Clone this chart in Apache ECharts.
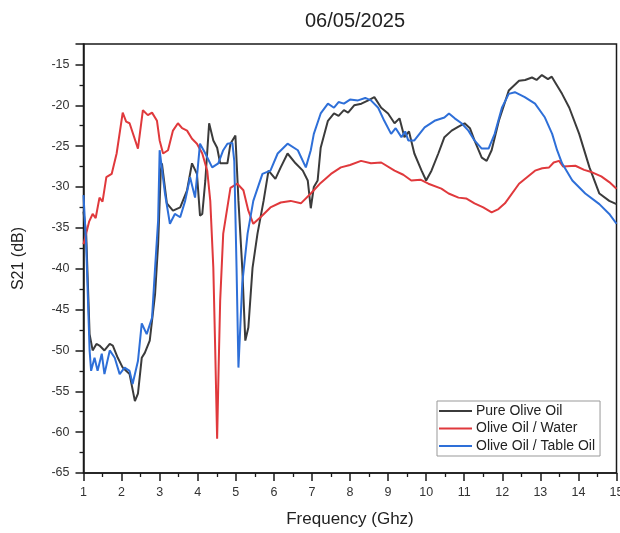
<!DOCTYPE html>
<html>
<head>
<meta charset="utf-8">
<script src="https://cdn.jsdelivr.net/npm/echarts@6/dist/echarts.min.js"></script>
<style>html,body{margin:0;padding:0;background:#fff;}#c{width:620px;height:533px;}</style>
</head>
<body>
<div id="c"></div>
<script>
const seriesNames = ['Pure Olive Oil', 'Olive Oil / Water', 'Olive Oil / Table Oil'];
const xTicks = [1,2,3,4,5,6,7,8,9,10,11,12,13,14,15];
const yTicks = [-65,-60,-55,-50,-45,-40,-35,-30,-25,-20,-15];

const pureOliveOil = [[1.0,-33],[1.07,-35.7],[1.16,-48],[1.24,-50],[1.34,-49.2],[1.42,-49.4],[1.55,-50],[1.69,-49.2],[1.77,-49.4],[1.9,-50.9],[2.03,-52.1],[2.21,-52.9],[2.35,-56.2],[2.43,-55.3],[2.53,-50.9],[2.61,-50.3],[2.74,-48.8],[2.88,-43.1],[2.96,-37],[3.03,-28],[3.06,-27.1],[3.19,-32],[3.35,-32.9],[3.54,-32.5],[3.72,-30.4],[3.85,-27.1],[3.98,-28.4],[4.06,-33.5],[4.12,-33.3],[4.2,-29.2],[4.3,-22.2],[4.41,-24.3],[4.51,-25.2],[4.59,-27.1],[4.67,-27.1],[4.78,-27.1],[4.86,-24.7],[4.99,-23.7],[5.07,-31.7],[5.17,-39.9],[5.25,-48.8],[5.33,-47.2],[5.44,-39.9],[5.57,-35.7],[5.73,-31.7],[5.86,-28],[6.04,-29],[6.18,-27.6],[6.36,-25.9],[6.57,-27.1],[6.76,-28],[6.89,-29.2],[6.97,-32.6],[7.05,-30],[7.15,-29.2],[7.23,-25.2],[7.42,-21.9],[7.58,-21],[7.7,-21.3],[7.84,-20.6],[7.95,-20.9],[8.11,-20],[8.3,-19.8],[8.48,-19.4],[8.64,-19],[8.82,-20.3],[9.0,-21],[9.17,-22.2],[9.3,-21.6],[9.43,-23.9],[9.55,-23.2],[9.69,-25.9],[9.88,-28],[10.0,-29.2],[10.14,-28],[10.32,-25.9],[10.48,-23.9],[10.67,-23.1],[10.85,-22.6],[11.01,-22.2],[11.15,-22.8],[11.27,-24.3],[11.46,-26.4],[11.59,-26.8],[11.72,-25.5],[11.91,-21.9],[12.17,-18.2],[12.44,-17],[12.6,-16.9],[12.78,-16.6],[12.9,-16.9],[13.04,-16.3],[13.2,-16.8],[13.3,-16.5],[13.39,-17.2],[13.57,-18.6],[13.76,-20.3],[14.02,-23.5],[14.29,-27.6],[14.55,-30.8],[14.81,-31.7],[15.0,-32.1]];

const oliveOilWater = [[1.0,-37],[1.07,-35.7],[1.15,-34.2],[1.24,-33.3],[1.32,-33.8],[1.42,-31.3],[1.5,-31.8],[1.6,-28.8],[1.74,-28.4],[1.87,-25.9],[2.03,-20.9],[2.12,-22.0],[2.21,-22.2],[2.43,-25.3],[2.56,-20.6],[2.69,-21.2],[2.8,-20.9],[2.93,-21.9],[3.0,-24.3],[3.09,-25.9],[3.22,-25.5],[3.35,-23.1],[3.48,-22.2],[3.59,-22.8],[3.72,-23.1],[3.85,-24.1],[3.98,-24.7],[4.12,-25.9],[4.25,-28],[4.33,-31.7],[4.41,-39.9],[4.46,-50],[4.51,-60.8],[4.55,-52],[4.59,-43.9],[4.67,-35.7],[4.86,-30.1],[5.04,-29.6],[5.2,-30.4],[5.33,-32.9],[5.46,-34.5],[5.65,-33.7],[5.91,-32.5],[6.18,-31.9],[6.44,-31.7],[6.71,-32.0],[6.97,-30.8],[7.23,-29.5],[7.5,-28.4],[7.76,-27.6],[8.0,-27.3],[8.29,-26.8],[8.55,-27.1],[8.82,-27.0],[9.17,-28],[9.4,-28.5],[9.61,-29.2],[9.85,-29.1],[10.06,-29.6],[10.4,-30.2],[10.59,-30.8],[10.85,-31.3],[11.05,-31.4],[11.27,-32.0],[11.5,-32.5],[11.72,-33.1],[11.9,-32.7],[12.07,-32.0],[12.44,-29.6],[12.86,-28],[13.05,-27.7],[13.23,-27.6],[13.35,-27.0],[13.49,-26.8],[13.6,-27.5],[13.92,-27.4],[14.15,-27.9],[14.36,-28.2],[14.6,-28.7],[14.81,-29.4],[15.0,-30.2]];

const oliveOilTableOil = [[1.0,-31],[1.07,-37],[1.16,-50],[1.2,-52.5],[1.29,-50.9],[1.37,-52.5],[1.48,-50.4],[1.55,-52.9],[1.69,-50],[1.82,-50.9],[1.95,-52.9],[2.08,-52.1],[2.21,-52.5],[2.29,-54.1],[2.43,-51.3],[2.53,-46.7],[2.66,-48],[2.8,-46],[2.88,-39.9],[2.96,-34.1],[3.0,-25.5],[3.14,-30.8],[3.27,-34.5],[3.4,-33.3],[3.54,-33.7],[3.67,-31.7],[3.8,-28.8],[3.93,-31.3],[4.06,-24.7],[4.2,-25.9],[4.38,-27.6],[4.54,-27.1],[4.67,-25.5],[4.78,-24.7],[4.91,-24.6],[4.96,-26.8],[5.02,-39.9],[5.07,-52.1],[5.17,-41.8],[5.31,-35.7],[5.46,-31.7],[5.7,-28.4],[5.91,-28],[6.1,-25.9],[6.36,-24.7],[6.63,-25.5],[6.84,-27.6],[6.97,-25.5],[7.05,-23.5],[7.23,-21],[7.42,-19.8],[7.58,-20.3],[7.7,-19.6],[7.84,-19.8],[8.0,-19.3],[8.21,-19.4],[8.4,-19.1],[8.55,-19.4],[8.74,-20.3],[8.9,-21.9],[9.08,-23.5],[9.2,-22.8],[9.35,-23.9],[9.45,-23.2],[9.53,-24.3],[9.69,-24.3],[9.96,-22.7],[10.22,-21.9],[10.48,-21.5],[10.6,-21.0],[10.75,-21.6],[10.93,-22.2],[11.11,-23.1],[11.27,-24.3],[11.46,-25.3],[11.64,-25.3],[11.8,-23.5],[11.99,-20.3],[12.17,-18.6],[12.33,-18.4],[12.59,-19],[12.86,-19.8],[13.12,-21.5],[13.31,-23.5],[13.44,-25.5],[13.57,-27.1],[13.84,-29.2],[14.18,-30.8],[14.55,-32.1],[14.81,-33.3],[15.0,-34.5]];

const colors = ['#3b3b3b', '#e0393c', '#2e6fd8'];
const font = 'Liberation Sans, Arial, sans-serif';

const chart = echarts.init(document.getElementById('c'), null, {renderer: 'canvas'});
const mk = (name, data, color) => ({
  name, type: 'line', data, symbol: 'none', smooth: false,
  lineStyle: {color, width: 2}, itemStyle: {color}, z: 3
});
chart.setOption({
  animation: false,
  backgroundColor: '#fff',
  title: {text: '06/05/2025', left: 350, top: 6, textAlign: 'center',
    textStyle: {fontFamily: font, fontSize: 20, fontWeight: 'normal', color: '#222'}},
  grid: {left: 83.5, right: 3.5, top: 44, bottom: 60, show: true, borderColor: '#1a1a1a', borderWidth: 1.5,
    backgroundColor: 'transparent', containLabel: false, outerBoundsMode: 'none'},
  legend: {
    orient: 'vertical', left: 437, top: 401,
    data: seriesNames.map(n => ({name: n, icon: 'rect'})),
    itemWidth: 33, itemHeight: 2, itemGap: 3.5,
    padding: [3, 5, 3, 2],
    borderColor: '#999', borderWidth: 1, borderRadius: 0,
    backgroundColor: '#fff',
    textStyle: {fontFamily: font, fontSize: 14, lineHeight: 14, color: '#222', padding: [0, 0, 0, -1]}
  },
  xAxis: {
    type: 'value', min: xTicks[0], max: xTicks[xTicks.length - 1], interval: 1,
    name: 'Frequency (Ghz)', nameLocation: 'middle', nameGap: 38,
    nameTextStyle: {fontFamily: font, fontSize: 17, color: '#222'},
    axisLine: {show: true, onZero: false, lineStyle: {color: '#1a1a1a', width: 1.5}},
    axisTick: {show: true, inside: false, length: 8, lineStyle: {color: '#1a1a1a', width: 1.5}},
    minorTick: {show: true, splitNumber: 2, length: 4, lineStyle: {color: '#1a1a1a', width: 1.3}},
    axisLabel: {fontFamily: font, fontSize: 12.5, color: '#333', margin: 13},
    splitLine: {show: false}
  },
  yAxis: {
    type: 'value', min: yTicks[0], max: -12.5, interval: 5,
    name: 'S21 (dB)', nameLocation: 'middle', nameGap: 57, nameRotate: 90,
    nameTextStyle: {fontFamily: font, fontSize: 16, color: '#222'},
    axisLine: {show: true, onZero: false, lineStyle: {color: '#1a1a1a', width: 1.5}},
    axisTick: {show: true, inside: false, length: 8, lineStyle: {color: '#1a1a1a', width: 1.5}},
    minorTick: {show: true, splitNumber: 2, length: 4, lineStyle: {color: '#1a1a1a', width: 1.3}},
    axisLabel: {fontFamily: font, fontSize: 12.5, color: '#333', margin: 14,
      formatter: v => (yTicks.indexOf(v) >= 0 ? String(v) : '')},
    splitLine: {show: false}
  },
  series: [
    mk(seriesNames[0], pureOliveOil, colors[0]),
    mk(seriesNames[1], oliveOilWater, colors[1]),
    mk(seriesNames[2], oliveOilTableOil, colors[2])
  ]
});
</script>
</body>
</html>
